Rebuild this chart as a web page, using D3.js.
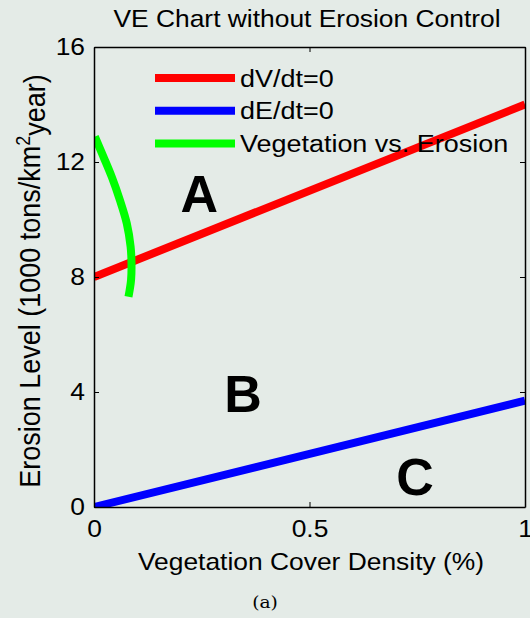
<!DOCTYPE html>
<html>
<head>
<meta charset="utf-8">
<script src="https://cdn.jsdelivr.net/npm/d3@7"></script>
<style>
  html, body { margin: 0; padding: 0; background: #e4ebe7; }
  svg { display: block; }
  text { font-family: "Liberation Sans", Arial, sans-serif; fill: #000; }
</style>
</head>
<body>
<svg id="chart" width="530" height="618"></svg>
<script>
// values
const xTicks = [0, 0.5, 1]
const yTicks = [0, 4, 8, 12, 16]
const xDomain = [0, 1]
const yDomain = [0, 16]

const seriesNames = ["dV/dt=0", "dE/dt=0", "Vegetation vs. Erosion"]
const seriesColors = ["#ff0000", "#0000ff", "#00ff00"]

// dV/dt = 0 isocline
const vegX = [0, 1]
const vegY = [8, 14]
// dE/dt = 0 isocline
const eroX = [0, 1]
const eroY = [0, 3.7]
// trajectory
const trajX = [0.002, 0.022, 0.041, 0.060, 0.076, 0.085, 0.087, 0.086, 0.080]
const trajY = [12.88, 12.18, 11.49, 10.68, 9.87, 9.05, 8.48, 7.90, 7.31]

const regionLabels = ["A", "B", "C"]
const regionX = [0.244, 0.346, 0.745]
const regionY = [10.27, 3.31, 0.42]

const margin = { top: 47, right: 5, bottom: 111, left: 94 }
const width = 530, height = 618
const innerW = width - margin.left - margin.right
const innerH = height - margin.top - margin.bottom
const stretch = 1.1   // the picture's text is a bit wider than plain Arial

const svg = d3.select("#chart")

const x = d3.scaleLinear().domain(xDomain).range([margin.left, width - margin.right])
const y = d3.scaleLinear().domain(yDomain).range([height - margin.bottom, margin.top])

svg.append("defs").append("clipPath").attr("id", "clip")
    .append("rect")
    .attr("x", margin.left).attr("y", margin.top)
    .attr("width", innerW).attr("height", innerH)

const plot = svg.append("g").attr("clip-path", "url(#clip)")

const line = d3.line().x(d => x(d[0])).y(d => y(d[1]))
const lines = [
    d3.zip(vegX, vegY),
    d3.zip(eroX, eroY),
    d3.zip(trajX, trajY)
]
const lineGen = [line, line, d3.line().x(d => x(d[0])).y(d => y(d[1])).curve(d3.curveCatmullRom)]

lines.forEach((pts, i) => {
    plot.append("path")
        .datum(pts)
        .attr("d", lineGen[i])
        .attr("fill", "none")
        .attr("stroke", seriesColors[i])
        .attr("stroke-width", 8)
})

// region letters
svg.selectAll(".region")
    .data(regionLabels)
    .join("text")
    .attr("class", "region")
    .attr("x", (d, i) => x(regionX[i]))
    .attr("y", (d, i) => y(regionY[i]))
    .attr("text-anchor", "middle")
    .style("font-size", "52px")
    .style("font-weight", "bold")
    .text(d => d)

// place a text at (tx,ty) and widen it a little
function widen(sel) {
    sel.each(function () {
        const t = d3.select(this)
        const tx = +t.attr("x") || 0, ty = +t.attr("y") || 0
        t.attr("x", 0).attr("y", 0).attr("transform", `translate(${tx},${ty}) scale(${stretch},1)`)
    })
}

// axes (ticks point inward, matlab style)
const fontSize = "24px"
const axBottom = svg.append("g")
    .attr("transform", `translate(0,${height - margin.bottom})`)
    .call(d3.axisBottom(x).tickValues(xTicks).tickFormat(d3.format("")).tickSizeInner(-5).tickSizeOuter(0).tickPadding(13))
const axTop = svg.append("g")
    .attr("transform", `translate(0,${margin.top})`)
    .call(d3.axisTop(x).tickValues(xTicks).tickFormat("").tickSizeInner(-5).tickSizeOuter(0))
const axLeft = svg.append("g")
    .attr("transform", `translate(${margin.left},0)`)
    .call(d3.axisLeft(y).tickValues(yTicks).tickFormat(d3.format("")).tickSizeInner(-5).tickSizeOuter(0).tickPadding(9))
const axRight = svg.append("g")
    .attr("transform", `translate(${width - margin.right},0)`)
    .call(d3.axisRight(y).tickValues(yTicks).tickFormat("").tickSizeInner(-5).tickSizeOuter(0))

;[axBottom, axTop, axLeft, axRight].forEach(g => {
    g.select(".domain").attr("stroke", "#000").attr("stroke-width", 1.5)
    g.selectAll(".tick line").attr("stroke", "#000").attr("stroke-width", 1)
    g.selectAll(".tick text").style("font-size", fontSize).attr("font-family", null)
})
widen(axBottom.selectAll(".tick text"))
widen(axLeft.selectAll(".tick text"))

// legend
const legend = svg.append("g")
seriesNames.forEach((name, i) => {
    const ly = 78 + i * 32.7
    legend.append("line")
        .attr("x1", 155).attr("x2", 235)
        .attr("y1", ly).attr("y2", ly)
        .attr("stroke", seriesColors[i])
        .attr("stroke-width", 8)
    legend.append("text")
        .attr("x", 240).attr("y", ly)
        .attr("dy", "0.35em")
        .style("font-size", "24.5px")
        .text(name)
        .call(widen)
})

// title and labels
svg.append("text")
    .attr("x", 307).attr("y", 27)
    .attr("text-anchor", "middle")
    .style("font-size", "24px")
    .text("VE Chart without Erosion Control")
    .call(widen)

svg.append("text")
    .attr("x", 311).attr("y", 570)
    .attr("text-anchor", "middle")
    .style("font-size", "24px")
    .text("Vegetation Cover Density (%)")
    .call(widen)

const yl = svg.append("text")
    .attr("transform", `translate(40,281) scale(${stretch},1) rotate(-90)`)
    .attr("text-anchor", "middle")
    .style("font-size", "27px")
yl.append("tspan").text("Erosion Level (1000 tons/km")
yl.append("tspan").attr("dy", "-0.5em").style("font-size", "18px").text("2")
yl.append("tspan").attr("dy", "0.5em").text("year)")

svg.append("text")
    .attr("x", 265).attr("y", 608)
    .attr("text-anchor", "middle")
    .style("font-family", "'DejaVu Serif', serif")
    .style("font-size", "17px")
    .text("(a)")
    .call(widen)
</script>
</body>
</html>
